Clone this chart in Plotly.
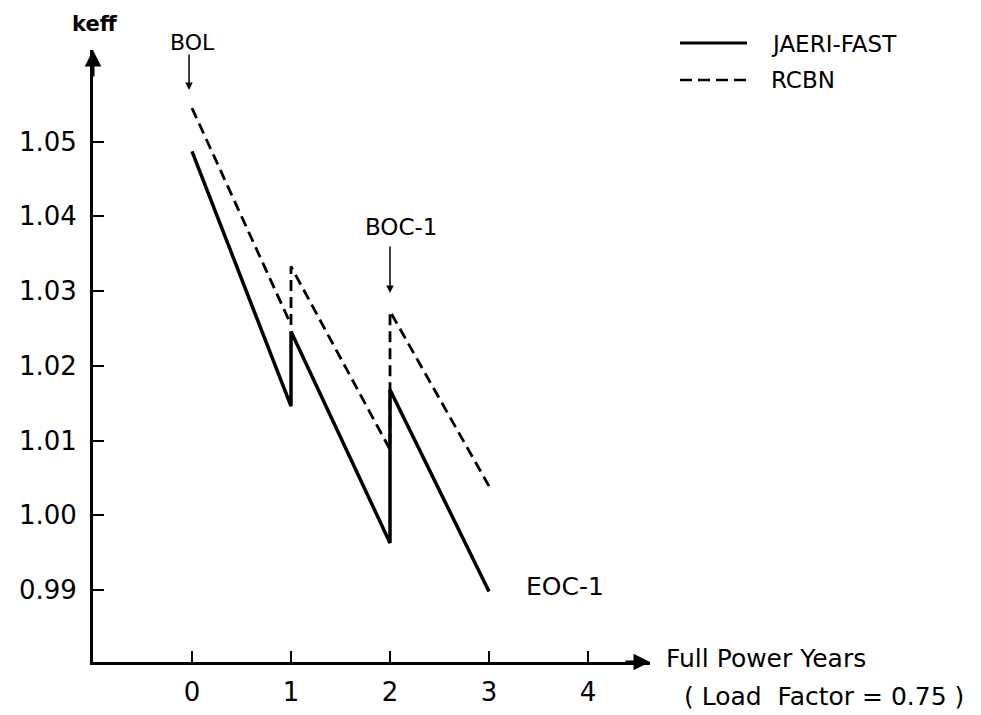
import plotly.graph_objects as go

# ---- data ----
years_jaeri = [0, 1, 1, 2, 2, 3]
keff_jaeri = [1.0487, 1.0146, 1.0246, 0.9963, 1.0168, 0.9898]
years_rcbn = [0, 1, 1, 2, 2, 3]
keff_rcbn = [1.0545, 1.0255, 1.0333, 1.0088, 1.0273, 1.0039]
x_ticks = [0, 1, 2, 3, 4]
y_ticks = [0.99, 1.00, 1.01, 1.02, 1.03, 1.04, 1.05]
y_tick_text = ["0.99", "1.00", "1.01", "1.02", "1.03", "1.04", "1.05"]

W, H = 981, 715
L, R, T, B = 93, 331, 50, 53
PW, PH = W - L - R, H - T - B
FONT = "DejaVu Sans"

def px(x):
    return (x - L) / PW

def py(y):
    return (H - B - y) / PH

fig = go.Figure()
fig.add_trace(go.Scatter(x=years_jaeri, y=keff_jaeri, mode="lines",
                         line=dict(color="black", width=3.5), name="JAERI-FAST",
                         showlegend=False))
fig.add_trace(go.Scatter(x=years_rcbn, y=keff_rcbn, mode="lines",
                         line=dict(color="black", width=2.8, dash="11px,6px"),
                         name="RCBN", showlegend=False))

tickfont = dict(family=FONT, size=26, color="black")
fig.update_xaxes(range=[-1.0, 4.626], tickvals=x_ticks, ticktext=[str(v) for v in x_ticks],
                 showline=True, linewidth=3, linecolor="black", ticks="inside",
                 ticklen=11, tickwidth=2, tickcolor="black", showgrid=False,
                 zeroline=False, tickfont=tickfont, ticklabelstandoff=5, automargin=False)
fig.update_yaxes(range=[0.98036, 1.06227], tickvals=y_ticks, ticktext=y_tick_text,
                 showline=True, linewidth=3, linecolor="black", ticks="inside",
                 ticklen=11, tickwidth=2, tickcolor="black", showgrid=False,
                 zeroline=False, tickfont=tickfont, ticklabelstandoff=8, automargin=False)


def label(xp, yp, text, size, anchor="center", bold=False):
    return dict(x=px(xp), y=py(yp), xref="paper", yref="paper",
                text=f"<b>{text}</b>" if bold else text, xanchor=anchor, yanchor="middle",
                showarrow=False, font=dict(family=FONT, size=size, color="black"))


ann = []
# axis arrowheads
ann.append(dict(x=1.0, y=0, xref="paper", yref="paper", ax=-26, ay=0, showarrow=True,
                arrowhead=2, arrowsize=1.1, arrowwidth=3, arrowcolor="black", text=""))
ann.append(dict(x=0, y=1.0, xref="paper", yref="paper", ax=0, ay=28, showarrow=True,
                arrowhead=2, arrowsize=1.1, arrowwidth=3, arrowcolor="black", text=""))
# axis labels
ann.append(label(95, 24, "keff", 21, bold=True))
ann.append(label(664, 658, "Full Power Years", 25, anchor="left"))
ann.append(label(682, 696, "( Load  Factor = 0.75 )", 25, anchor="left"))
# event markers
ann.append(dict(x=-0.03, y=1.0569, xref="x", yref="y", ax=0, ay=-37, showarrow=True,
                arrowhead=2, arrowsize=1, arrowwidth=1.5, arrowcolor="black", text=""))
ann.append(label(192, 42, "BOL", 22))
ann.append(dict(x=2, y=1.02975, xref="x", yref="y", ax=0, ay=-48, showarrow=True,
                arrowhead=2, arrowsize=1, arrowwidth=1.5, arrowcolor="black", text=""))
ann.append(label(401, 227, "BOC-1", 23))
ann.append(label(524, 586, "EOC-1", 25, anchor="left"))
# legend text
ann.append(label(769, 44, "JAERI-FAST", 23, anchor="left"))
ann.append(label(769, 80, "RCBN", 23, anchor="left"))

shapes = [
    dict(type="line", xref="paper", yref="paper", x0=px(680), x1=px(747), y0=py(43), y1=py(43),
         line=dict(color="black", width=3)),
    dict(type="line", xref="paper", yref="paper", x0=px(680), x1=px(747), y0=py(80), y1=py(80),
         line=dict(color="black", width=2.5, dash="12px,6px")),
]

fig.update_layout(width=W, height=H, autosize=False,
                  margin=dict(l=L, r=R, t=T, b=B, pad=0),
                  paper_bgcolor="white", plot_bgcolor="white",
                  annotations=ann, shapes=shapes, showlegend=False)

fig.write_html("out.html")
